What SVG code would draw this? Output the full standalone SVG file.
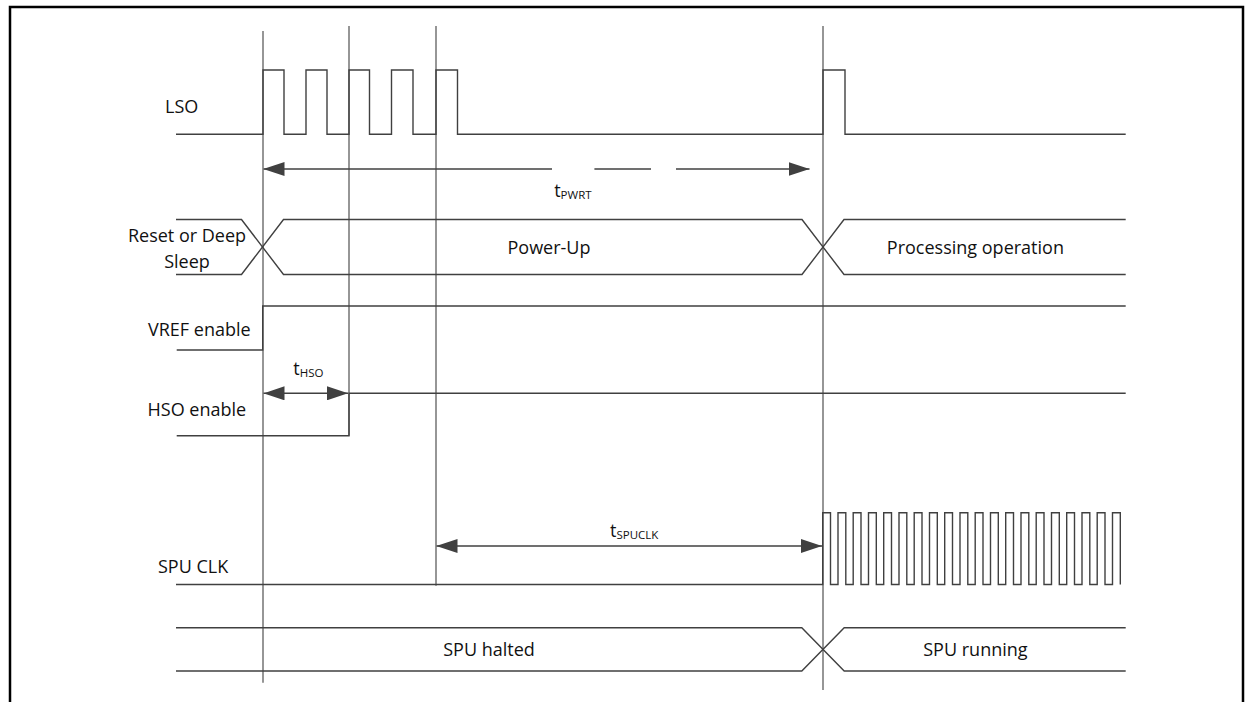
<svg xmlns="http://www.w3.org/2000/svg" width="1254" height="702" viewBox="0 0 1254 702">
<style>
.w{fill:none;stroke:#404040;stroke-width:1.4}
.g{fill:none;stroke:#505050;stroke-width:1.2}
.a{fill:none;stroke:#404040;stroke-width:1.4}
.t{font-family:"Open Sans","Noto Sans",sans-serif;font-size:18px;fill:#111}
.s{font-size:11.5px}
</style>
<defs>
<marker id="ah" viewBox="0 0 21 14" refX="21" refY="7" markerWidth="21" markerHeight="14" markerUnits="userSpaceOnUse" orient="auto-start-reverse">
<path d="M0,0 L21,7 L0,14 z" fill="#404040"/>
</marker>
</defs>
<rect x="0" y="0" width="1254" height="702" fill="#fff"/>
<path d="M10,702 V7 H1243 V702" fill="none" stroke="#000" stroke-width="2.5"/>

<g id="guides">
<line class="g" x1="263" y1="31" x2="263" y2="682.7"/>
<line class="g" x1="349" y1="26" x2="349" y2="435.7"/>
<line class="g" x1="436" y1="26" x2="436" y2="585.7"/>
<line class="g" x1="823" y1="26" x2="823" y2="690"/>
</g>

<g id="lso">
<text class="t" x="165" y="113">LSO</text>
<path class="w" d="M176,134.3 H263 V70 H284 V134.3 H306 V70 H327 V134.3 H349 V70 H369.5 V134.3 H391.5 V70 H413 V134.3 H436 V70 H457.5 V134.3 H823 V70 H845 V134.3 H1125.7"/>
</g>

<g id="reset-bus">
<text class="t" x="187" y="241.7" text-anchor="middle">Reset or Deep</text>
<text class="t" x="187" y="268" text-anchor="middle">Sleep</text>
<path class="w" d="M176,219.5 H241.5 L283.5,274.5 H802 L844,219.5 H1125.7"/>
<path class="w" d="M176,274.5 H241.5 L283.5,219.5 H802 L844,274.5 H1125.7"/>
<text class="t" x="549" y="254" text-anchor="middle">Power-Up</text>
<text class="t" x="975.4" y="254" text-anchor="middle">Processing operation</text>
</g>

<g id="vref">
<text class="t" x="148" y="335.7">VREF enable</text>
<path class="w" d="M176.7,350 H262.7 V306 H1125.7"/>
</g>

<g id="hso">
<text class="t" x="147.5" y="416">HSO enable</text>
<path class="w" d="M176.7,435.7 H349 V393.3 H1125.7"/>
</g>

<g id="spuclk">
<text class="t" x="158" y="573.3">SPU CLK</text>
<path class="w" d="M176,584.5 H822.7 V512.7 H830.5 V584.5 H838 V512.7 H845.8 V584.5 H853.2 V512.7 H861 V584.5 H868.5 V512.7 H876.3 V584.5 H883.7 V512.7 H891.5 V584.5 H899 V512.7 H906.8 V584.5 H914.2 V512.7 H922 V584.5 H929.5 V512.7 H937.3 V584.5 H944.7 V512.7 H952.5 V584.5 H960 V512.7 H967.8 V584.5 H975.2 V512.7 H983 V584.5 H990.5 V512.7 H998.3 V584.5 H1005.7 V512.7 H1013.5 V584.5 H1021 V512.7 H1028.8 V584.5 H1036.2 V512.7 H1044 V584.5 H1051.5 V512.7 H1059.3 V584.5 H1066.7 V512.7 H1074.5 V584.5 H1082 V512.7 H1089.8 V584.5 H1097.2 V512.7 H1105 V584.5 H1112.5 V512.7 H1120.3 V584.5"/>
</g>

<g id="spu-bus">
<path class="w" d="M176,627.7 H801.8 L844.2,671 H1125.7"/>
<path class="w" d="M176,671 H801.8 L844.2,627.7 H1125.7"/>
<text class="t" x="489" y="656" text-anchor="middle">SPU halted</text>
<text class="t" x="975.4" y="656" text-anchor="middle">SPU running</text>
</g>

<g id="connectors">
<line class="a" x1="263.5" y1="169" x2="552" y2="169" marker-start="url(#ah)"/>
<line class="a" x1="594.4" y1="169" x2="651" y2="169"/>
<line class="a" x1="676" y1="169" x2="809.5" y2="169" marker-end="url(#ah)"/>
<line class="a" x1="263.5" y1="393.3" x2="348" y2="393.3" marker-start="url(#ah)" marker-end="url(#ah)"/>
<line class="a" x1="436.5" y1="546" x2="822" y2="546" marker-start="url(#ah)" marker-end="url(#ah)"/>
</g>

<g id="labels">
<text class="t" x="554.2" y="196.5">t<tspan class="s" dy="2">PWRT</tspan></text>
<text class="t" x="293.3" y="375">t<tspan class="s" dy="2">HSO</tspan></text>
<text class="t" x="610" y="537.3">t<tspan class="s" dy="2">SPUCLK</tspan></text>
</g>
</svg>
